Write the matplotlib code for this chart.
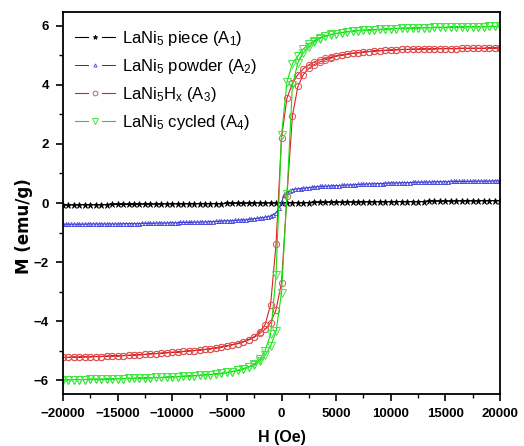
import matplotlib
matplotlib.use("Agg")
import matplotlib.pyplot as plt
from matplotlib.ticker import MultipleLocator
from matplotlib.lines import Line2D
from matplotlib.legend_handler import HandlerLine2D

plt.rcParams['font.family'] = ['Liberation Sans', 'DejaVu Sans']
plt.rcParams['mathtext.default'] = 'regular'

# Field grid (Oe), 250 Oe steps
H250 = [-20000, -19750, -19500, -19250, -19000, -18750, -18500, -18250, -18000, -17750,
        -17500, -17250, -17000, -16750, -16500, -16250, -16000, -15750, -15500, -15250,
        -15000, -14750, -14500, -14250, -14000, -13750, -13500, -13250, -13000, -12750,
        -12500, -12250, -12000, -11750, -11500, -11250, -11000, -10750, -10500, -10250,
        -10000, -9750, -9500, -9250, -9000, -8750, -8500, -8250, -8000, -7750,
        -7500, -7250, -7000, -6750, -6500, -6250, -6000, -5750, -5500, -5250,
        -5000, -4750, -4500, -4250, -4000, -3750, -3500, -3250, -3000, -2750,
        -2500, -2250, -2000, -1750, -1500, -1250, -1000, -750, -500, -250,
        0, 250, 500, 750, 1000, 1250, 1500, 1750, 2000, 2250,
        2500, 2750, 3000, 3250, 3500, 3750, 4000, 4250, 4500, 4750,
        5000, 5250, 5500, 5750, 6000, 6250, 6500, 6750, 7000, 7250,
        7500, 7750, 8000, 8250, 8500, 8750, 9000, 9250, 9500, 9750,
        10000, 10250, 10500, 10750, 11000, 11250, 11500, 11750, 12000, 12250,
        12500, 12750, 13000, 13250, 13500, 13750, 14000, 14250, 14500, 14750,
        15000, 15250, 15500, 15750, 16000, 16250, 16500, 16750, 17000, 17250,
        17500, 17750, 18000, 18250, 18500, 18750, 19000, 19250, 19500, 19750,
        20000]
# 500 Oe grid used by A1, A3, A4
H500 = H250[::2]

# A1: LaNi5 piece
M_piece = [-0.07, -0.07, -0.07, -0.06, -0.06, -0.06, -0.06, -0.06, -0.06, -0.05,
           -0.05, -0.05, -0.05, -0.05, -0.04, -0.04, -0.04, -0.04, -0.04, -0.03,
           -0.03, -0.03, -0.03, -0.03, -0.03, -0.02, -0.02, -0.02, -0.02, -0.02,
           -0.01, -0.01, -0.01, -0.01, -0.01, 0.00, 0.00, 0.00, 0.00, 0.00,
           0.01, 0.01, 0.01, 0.01, 0.01, 0.01, 0.02, 0.02, 0.02, 0.02,
           0.02, 0.03, 0.03, 0.03, 0.03, 0.03, 0.04, 0.04, 0.04, 0.04,
           0.04, 0.05, 0.05, 0.05, 0.05, 0.05, 0.05, 0.06, 0.06, 0.06,
           0.06, 0.06, 0.07, 0.07, 0.07, 0.07, 0.07, 0.08, 0.08, 0.08,
           0.08]

# A2: LaNi5 powder (250 Oe grid)
M_powder = [-0.72, -0.72, -0.72, -0.72, -0.72, -0.72, -0.72, -0.72, -0.72, -0.71,
            -0.71, -0.71, -0.71, -0.71, -0.71, -0.71, -0.71, -0.71, -0.71, -0.71,
            -0.71, -0.71, -0.70, -0.70, -0.70, -0.70, -0.70, -0.70, -0.70, -0.69,
            -0.69, -0.69, -0.69, -0.69, -0.68, -0.68, -0.68, -0.68, -0.68, -0.67,
            -0.67, -0.67, -0.67, -0.66, -0.66, -0.66, -0.66, -0.66, -0.65, -0.65,
            -0.65, -0.64, -0.64, -0.64, -0.63, -0.63, -0.62, -0.62, -0.61, -0.61,
            -0.60, -0.60, -0.60, -0.59, -0.58, -0.58, -0.57, -0.57, -0.55, -0.55,
            -0.53, -0.52, -0.51, -0.50, -0.48, -0.46, -0.44, -0.40, -0.33, -0.18,
            0.02, 0.28, 0.38, 0.42, 0.45, 0.47, 0.48, 0.49, 0.50, 0.51,
            0.52, 0.53, 0.54, 0.55, 0.56, 0.56, 0.57, 0.57, 0.58, 0.58,
            0.59, 0.59, 0.60, 0.60, 0.61, 0.61, 0.62, 0.62, 0.63, 0.63,
            0.64, 0.64, 0.65, 0.65, 0.65, 0.66, 0.66, 0.66, 0.67, 0.67,
            0.68, 0.68, 0.68, 0.68, 0.69, 0.69, 0.69, 0.69, 0.70, 0.70,
            0.70, 0.70, 0.71, 0.71, 0.71, 0.71, 0.72, 0.72, 0.72, 0.72,
            0.72, 0.72, 0.73, 0.73, 0.73, 0.73, 0.73, 0.73, 0.73, 0.73,
            0.74, 0.74, 0.74, 0.74, 0.74, 0.74, 0.74, 0.74, 0.75, 0.75,
            0.75]

# A3: LaNi5Hx, decreasing-field branch and increasing-field branch (values on H500)
M_hydride_down = [-5.23, -5.23, -5.22, -5.22, -5.21, -5.21, -5.20, -5.20, -5.19, -5.18,
                  -5.18, -5.17, -5.16, -5.15, -5.14, -5.13, -5.11, -5.10, -5.09, -5.07,
                  -5.06, -5.05, -5.03, -5.01, -5.00, -4.98, -4.96, -4.94, -4.91, -4.88,
                  -4.84, -4.80, -4.76, -4.70, -4.63, -4.53, -4.36, -4.12, -3.45, -1.40,
                  2.20, 3.55, 4.05, 4.35, 4.55, 4.68, 4.78, 4.85, 4.90, 4.94,
                  4.98, 5.01, 5.04, 5.07, 5.09, 5.11, 5.13, 5.15, 5.16, 5.17,
                  5.18, 5.19, 5.20, 5.20, 5.21, 5.21, 5.22, 5.22, 5.22, 5.23,
                  5.23, 5.23, 5.23, 5.24, 5.24, 5.24, 5.24, 5.24, 5.25, 5.25,
                  5.25]
M_hydride_up = [-5.23, -5.23, -5.22, -5.22, -5.21, -5.21, -5.20, -5.20, -5.19, -5.18,
                -5.18, -5.17, -5.16, -5.15, -5.14, -5.13, -5.11, -5.10, -5.09, -5.07,
                -5.06, -5.05, -5.03, -5.01, -5.00, -4.98, -4.96, -4.94, -4.91, -4.88,
                -4.84, -4.80, -4.76, -4.70, -4.63, -4.55, -4.42, -4.28, -4.05, -3.62,
                -2.70, 0.25, 2.95, 3.95, 4.35, 4.56, 4.69, 4.78, 4.85, 4.90,
                4.98, 5.01, 5.04, 5.07, 5.09, 5.11, 5.13, 5.15, 5.16, 5.17,
                5.18, 5.19, 5.20, 5.20, 5.21, 5.21, 5.22, 5.22, 5.22, 5.23,
                5.23, 5.23, 5.23, 5.24, 5.24, 5.24, 5.24, 5.24, 5.25, 5.25,
                5.25]

# A4: LaNi5 cycled
M_cycled_down = [-5.99, -5.99, -5.98, -5.98, -5.98, -5.97, -5.97, -5.97, -5.96, -5.96,
                 -5.95, -5.95, -5.94, -5.94, -5.93, -5.93, -5.92, -5.91, -5.91, -5.90,
                 -5.89, -5.88, -5.87, -5.86, -5.85, -5.84, -5.82, -5.81, -5.79, -5.77,
                 -5.74, -5.71, -5.67, -5.62, -5.55, -5.45, -5.30, -5.00, -4.45, -2.45,
                 2.30, 4.10, 4.72, 4.98, 5.22, 5.38, 5.50, 5.60, 5.66, 5.71,
                 5.74, 5.77, 5.80, 5.82, 5.84, 5.85, 5.86, 5.87, 5.88, 5.89,
                 5.90, 5.91, 5.92, 5.92, 5.93, 5.93, 5.94, 5.94, 5.95, 5.95,
                 5.95, 5.96, 5.96, 5.96, 5.97, 5.97, 5.97, 5.97, 5.98, 5.98,
                 5.98]
M_cycled_up = [-5.99, -5.99, -5.98, -5.98, -5.98, -5.97, -5.97, -5.97, -5.96, -5.96,
               -5.95, -5.95, -5.94, -5.94, -5.93, -5.93, -5.92, -5.91, -5.91, -5.90,
               -5.89, -5.88, -5.87, -5.86, -5.85, -5.84, -5.82, -5.81, -5.79, -5.77,
               -5.74, -5.71, -5.67, -5.62, -5.55, -5.50, -5.36, -5.15, -4.85, -4.35,
               -3.05, 0.30, 4.00, 4.75, 5.08, 5.30, 5.45, 5.57, 5.65, 5.70,
               5.74, 5.77, 5.80, 5.82, 5.84, 5.85, 5.86, 5.87, 5.88, 5.89,
               5.90, 5.91, 5.92, 5.92, 5.93, 5.93, 5.94, 5.94, 5.95, 5.95,
               5.95, 5.96, 5.96, 5.96, 5.97, 5.97, 5.97, 5.97, 5.98, 5.98,
               5.98]

labels = ["LaNi$_5$ piece (A$_1$)", "LaNi$_5$ powder (A$_2$)",
          "LaNi$_5$H$_x$ (A$_3$)", "LaNi$_5$ cycled (A$_4$)"]

xticks = [-20000, -15000, -10000, -5000, 0, 5000, 10000, 15000, 20000]
yticks = [-6, -4, -2, 0, 2, 4, 6]


class GapLineHandler(HandlerLine2D):
    """Legend handle: line segment, symbol, line segment (with gaps)."""
    def create_artists(self, legend, orig_handle, xdescent, ydescent,
                       width, height, fontsize, trans):
        y = height / 2.0 - ydescent
        x0 = -xdescent
        x1 = -xdescent + width
        xm = (x0 + x1) / 2.0
        gap = width * 0.17
        color = orig_handle.get_color()
        lw = orig_handle.get_linewidth()
        l1 = Line2D([x0, xm - gap], [y, y], color=color, lw=lw)
        l2 = Line2D([xm + gap, x1], [y, y], color=color, lw=lw)
        m = Line2D([xm], [y], linestyle='none',
                   marker=orig_handle.get_marker(),
                   markersize=orig_handle.get_markersize() * 0.75,
                   markerfacecolor=orig_handle.get_markerfacecolor(),
                   markeredgecolor=orig_handle.get_markeredgecolor(),
                   markeredgewidth=orig_handle.get_markeredgewidth())
        for a in (l1, l2, m):
            a.set_transform(trans)
        return [l1, l2, m]


fig = plt.figure(figsize=(5.24, 4.46), dpi=100)
ax = fig.add_axes([63 / 524, 1 - 394 / 446, 437 / 524, 382 / 446])

# full loops: descending branch then ascending branch
H_loop = H500[::-1] + H500
hyd_loop = M_hydride_down[::-1] + M_hydride_up
cyc_loop = M_cycled_down[::-1] + M_cycled_up

l_a1, = ax.plot(H500, M_piece, color='black', lw=0.8, marker='*', ms=4.5,
                mfc='black', mec='black', mew=0.5, label=labels[0])
l_a2, = ax.plot(H250, M_powder, color='#2a2ad0', lw=0.7, marker='^', ms=3,
                mfc='none', mec='#4848dc', mew=0.6, label=labels[1])
l_a3, = ax.plot(H_loop, hyd_loop, color='#e02020', lw=0.8, marker='o', ms=4.5,
                mfc='none', mec='#e05050', mew=0.7, label=labels[2])
l_a4, = ax.plot(H_loop, cyc_loop, color='#10e010', lw=0.8, marker='v', ms=5.5,
                mfc='none', mec='#40e840', mew=0.7, label=labels[3])

ax.set_xlim(-20000, 20000)
ax.set_ylim(-6.47, 6.47)
ax.set_xticks(xticks)
ax.set_yticks(yticks)
ax.xaxis.set_minor_locator(MultipleLocator(2500))
ax.yaxis.set_minor_locator(MultipleLocator(1))
ax.tick_params(which='major', direction='out', length=5, width=1.2,
               top=False, right=False, labelsize=9.5, pad=5)
ax.tick_params(which='minor', direction='out', length=3, width=1.0,
               top=False, right=False)
for lab in ax.get_xticklabels() + ax.get_yticklabels():
    lab.set_fontweight('bold')
for s in ax.spines.values():
    s.set_linewidth(1.3)

ax.set_xlabel("H (Oe)", fontsize=11.5, fontweight='bold')
ax.set_ylabel("M (emu/g)", fontsize=12, fontweight='bold', family='DejaVu Sans')
ax.xaxis.set_label_coords(0.5, -0.094)
ax.yaxis.set_label_coords(-0.068, 0.44)

leg = ax.legend(handles=[l_a1, l_a2, l_a3, l_a4],
                handler_map={Line2D: GapLineHandler()},
                loc='upper left', bbox_to_anchor=(0.0275, 0.955), frameon=False,
                fontsize=12, handlelength=2.4, handletextpad=0.4,
                labelspacing=0.54, borderpad=0, borderaxespad=0)

fig.savefig("out.png", dpi=100)
